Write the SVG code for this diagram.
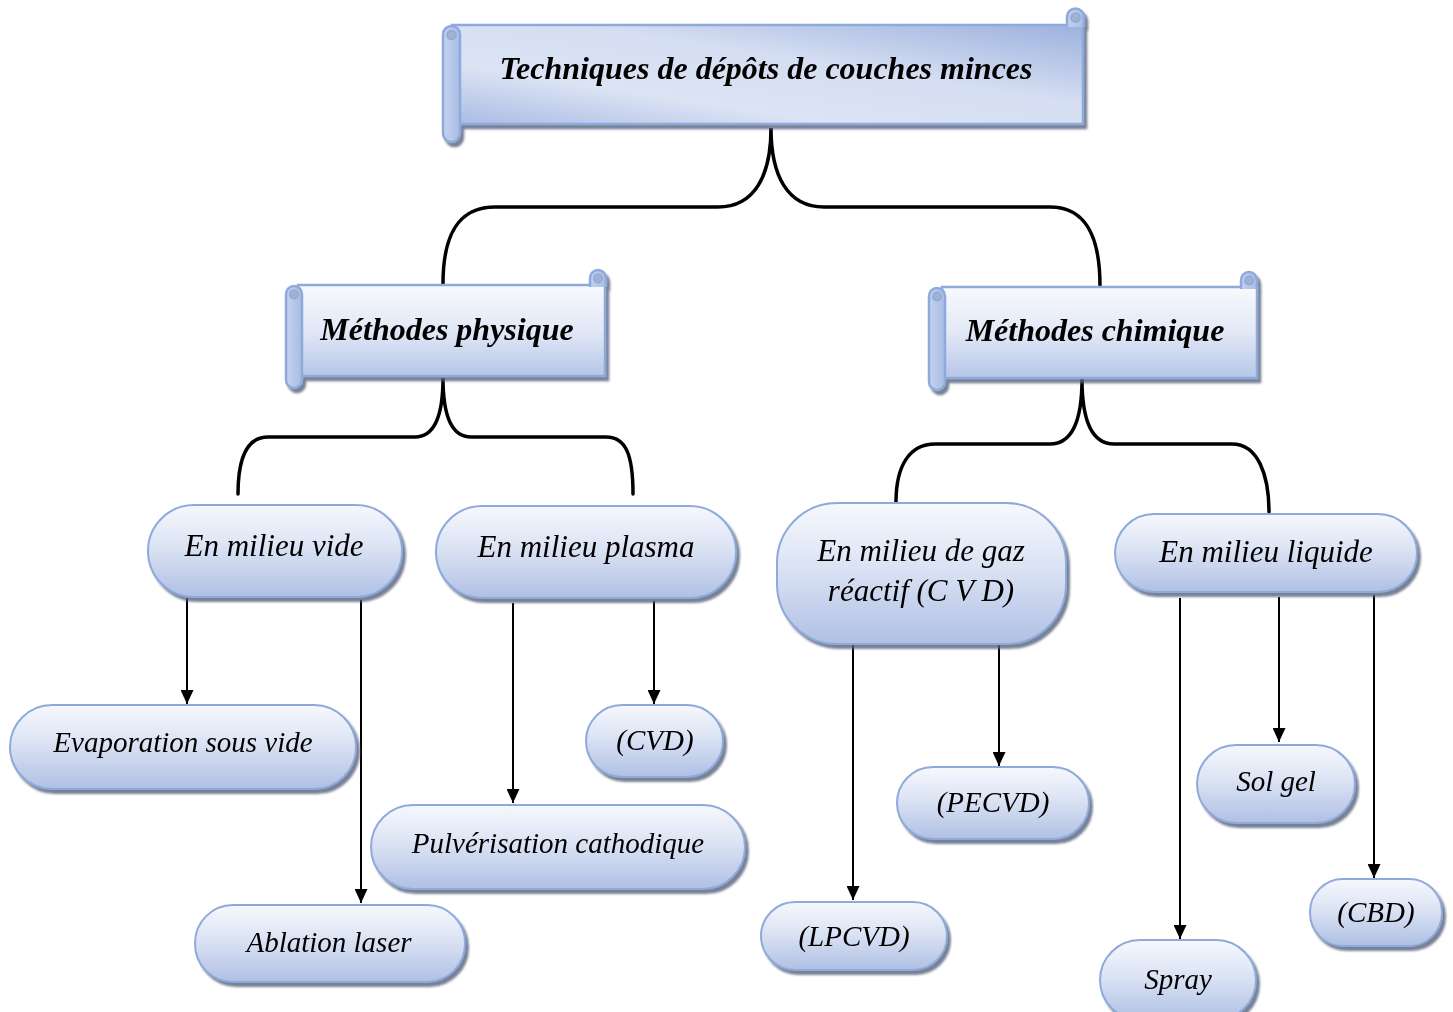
<svg xmlns="http://www.w3.org/2000/svg" width="1453" height="1012" viewBox="0 0 1453 1012">
  <defs>
    <linearGradient id="gPill" x1="0" y1="0" x2="0" y2="1">
      <stop offset="0" stop-color="#f6f8fd"/>
      <stop offset="0.45" stop-color="#dbe3f4"/>
      <stop offset="1" stop-color="#b0c0e4"/>
    </linearGradient>
    <linearGradient id="gScroll" x1="0" y1="0" x2="0" y2="1">
      <stop offset="0" stop-color="#f8f9fd"/>
      <stop offset="0.5" stop-color="#e2e8f6"/>
      <stop offset="1" stop-color="#b6c6e8"/>
    </linearGradient>
    <linearGradient id="gTitle" x1="0" y1="1" x2="1" y2="0">
      <stop offset="0" stop-color="#a9bbe3"/>
      <stop offset="0.3" stop-color="#dbe3f4"/>
      <stop offset="0.6" stop-color="#d5def2"/>
      <stop offset="1" stop-color="#9cb1de"/>
    </linearGradient>
    <linearGradient id="gRoll" x1="0" y1="0" x2="1" y2="0">
      <stop offset="0" stop-color="#c4d2ef"/>
      <stop offset="1" stop-color="#a9bce4"/>
    </linearGradient>
    <filter id="shadow" x="-10%" y="-10%" width="130%" height="140%">
      <feDropShadow dx="3" dy="4" stdDeviation="1.2" flood-color="#56627c" flood-opacity="0.8"/>
    </filter>
    <marker id="ah" viewBox="0 0 14 13" refX="14" refY="6.5" markerWidth="14" markerHeight="13" markerUnits="userSpaceOnUse" orient="auto">
      <path d="M0,0 L14,6.5 L0,13 z" fill="#000"/>
    </marker>
  </defs>
  <style>
    .pill { fill: url(#gPill); stroke: #8eaadb; stroke-width: 2; }
    .body { fill: url(#gScroll); stroke: #8eaadb; stroke-width: 2.5; }
    .tbody { fill: url(#gTitle); stroke: #8eaadb; stroke-width: 2.5; }
    .roll { fill: url(#gRoll); stroke: #8eaadb; stroke-width: 2.5; }
    .curl { fill: #a3b1d0; stroke: #8eaadb; stroke-width: 1.5; }
    .brace { fill: none; stroke: #000; stroke-width: 3.5; stroke-linecap: round; }
    .arrow { stroke: #000; stroke-width: 2; marker-end: url(#ah); }
    .h { font-family: "Liberation Serif", "Times New Roman", serif; font-style: italic; font-weight: bold; font-size: 32px; fill: #000; text-anchor: middle; }
    .m { font-family: "Liberation Serif", "Times New Roman", serif; font-style: italic; font-size: 31px; fill: #000; text-anchor: middle; }
    .l { font-family: "Liberation Serif", "Times New Roman", serif; font-style: italic; font-size: 29px; fill: #000; text-anchor: middle; }
  </style>

  <rect width="1453" height="1012" fill="#fff"/>

  <!-- connectors: curly braces and straight arrows -->
  <g id="connectors">
    <path class="brace" d="M443,284 C443,235 458,207 495,207 L718,207 C755,207 771,175 771,128 C771,175 787,207 824,207 L1050,207 C1085,207 1100,235 1100,286"/>
    <path class="brace" d="M238,494 C238,455 248,437 268,437 L415,437 C435,437 443,415 443,378 C443,415 451,437 471,437 L606,437 C626,437 633,455 633,494"/>
    <path class="brace" d="M896,502 C896,465 910,444 935,444 L1050,444 C1072,444 1082,420 1082,379 C1082,420 1092,444 1114,444 L1232,444 C1258,444 1269,475 1269,512"/>
    <line class="arrow" x1="187" y1="598" x2="187" y2="704"/>
    <line class="arrow" x1="361" y1="600" x2="361" y2="903"/>
    <line class="arrow" x1="513" y1="603" x2="513" y2="803"/>
    <line class="arrow" x1="654" y1="601" x2="654" y2="704"/>
    <line class="arrow" x1="853" y1="643" x2="853" y2="900"/>
    <line class="arrow" x1="999" y1="643" x2="999" y2="766"/>
    <line class="arrow" x1="1180" y1="598" x2="1180" y2="939"/>
    <line class="arrow" x1="1279" y1="597" x2="1279" y2="742"/>
    <line class="arrow" x1="1374" y1="595" x2="1374" y2="878"/>
  </g>

  <!-- scroll banners -->
  <g id="title" filter="url(#shadow)">
    <rect class="tbody" x="452" y="25" width="631" height="99"/>
    <path class="roll" d="M1067,27 V17 a8.5,8.5 0 0 1 17,0 V27"/>
    <circle class="curl" cx="1075.5" cy="17.5" r="4.5"/>
    <rect class="roll" x="443" y="26" width="17" height="116" rx="8.5"/>
    <circle class="curl" cx="451.5" cy="35" r="4.5"/>
    <text class="h" x="766" y="79">Techniques de dépôts de couches minces</text>
  </g>

  <g id="physique" filter="url(#shadow)">
    <rect class="body" x="298" y="285" width="307" height="91"/>
    <path class="roll" d="M590,287 V278 a8,8 0 0 1 16,0 V287"/>
    <circle class="curl" cx="598" cy="278.5" r="4.2"/>
    <rect class="roll" x="286" y="286" width="16" height="102" rx="8"/>
    <circle class="curl" cx="294" cy="294.5" r="4.2"/>
    <text class="h" x="447" y="340">Méthodes physique</text>
  </g>

  <g id="chimique" filter="url(#shadow)">
    <rect class="body" x="942" y="287" width="315" height="91"/>
    <path class="roll" d="M1241,289 V280 a8,8 0 0 1 16,0 V289"/>
    <circle class="curl" cx="1249" cy="280.5" r="4.2"/>
    <rect class="roll" x="929" y="288" width="16" height="102" rx="8"/>
    <circle class="curl" cx="937" cy="296.5" r="4.2"/>
    <text class="h" x="1095" y="341">Méthodes chimique</text>
  </g>

  <!-- rounded nodes -->
  <g id="vide" filter="url(#shadow)">
    <rect class="pill" x="148" y="505" width="254" height="92" rx="46"/>
    <text class="m" x="274" y="556">En milieu vide</text>
  </g>
  <g id="plasma" filter="url(#shadow)">
    <rect class="pill" x="436" y="506" width="300" height="92" rx="46"/>
    <text class="m" x="586" y="557">En milieu plasma</text>
  </g>
  <g id="gaz" filter="url(#shadow)">
    <rect class="pill" x="777" y="503" width="289" height="141" rx="60"/>
    <text class="m" x="921" y="561">En milieu de gaz</text>
    <text class="m" x="921" y="601">réactif (C V D)</text>
  </g>
  <g id="liquide" filter="url(#shadow)">
    <rect class="pill" x="1115" y="514" width="302" height="78" rx="39"/>
    <text class="m" x="1266" y="562">En milieu liquide</text>
  </g>
  <g id="evaporation" filter="url(#shadow)">
    <rect class="pill" x="10" y="705" width="346" height="84" rx="42"/>
    <text class="l" x="183" y="752">Evaporation sous vide</text>
  </g>
  <g id="ablation" filter="url(#shadow)">
    <rect class="pill" x="195" y="905" width="270" height="77" rx="38"/>
    <text class="l" x="329" y="952">Ablation laser</text>
  </g>
  <g id="cvd" filter="url(#shadow)">
    <rect class="pill" x="586" y="705" width="137" height="72" rx="36"/>
    <text class="l" x="655" y="750">(CVD)</text>
  </g>
  <g id="pulverisation" filter="url(#shadow)">
    <rect class="pill" x="371" y="805" width="374" height="84" rx="42"/>
    <text class="l" x="558" y="853">Pulvérisation cathodique</text>
  </g>
  <g id="pecvd" filter="url(#shadow)">
    <rect class="pill" x="897" y="767" width="192" height="72" rx="36"/>
    <text class="l" x="993" y="812">(PECVD)</text>
  </g>
  <g id="lpcvd" filter="url(#shadow)">
    <rect class="pill" x="761" y="902" width="186" height="68" rx="34"/>
    <text class="l" x="854" y="946">(LPCVD)</text>
  </g>
  <g id="solgel" filter="url(#shadow)">
    <rect class="pill" x="1197" y="745" width="158" height="78" rx="39"/>
    <text class="l" x="1276" y="791">Sol gel</text>
  </g>
  <g id="cbd" filter="url(#shadow)">
    <rect class="pill" x="1310" y="879" width="132" height="67" rx="33"/>
    <text class="l" x="1376" y="922">(CBD)</text>
  </g>
  <g id="spray" filter="url(#shadow)">
    <rect class="pill" x="1100" y="940" width="156" height="80" rx="40"/>
    <text class="l" x="1178" y="989">Spray</text>
  </g>
</svg>
